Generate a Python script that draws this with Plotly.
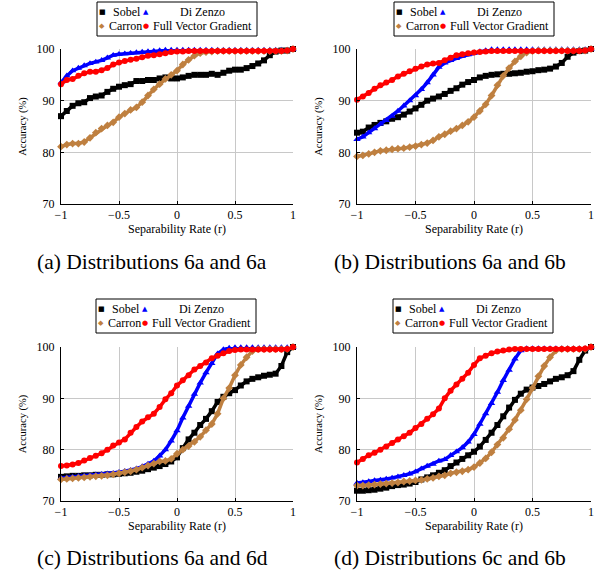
import plotly.graph_objects as go

W, H = 606, 572

# ---------------- data ----------------
x_rate = [-1, -0.95, -0.9, -0.85, -0.8, -0.75, -0.7, -0.65, -0.6, -0.55, -0.5,
          -0.45, -0.4, -0.35, -0.3, -0.25, -0.2, -0.15, -0.1, -0.05, 0,
          0.05, 0.1, 0.15, 0.2, 0.25, 0.3, 0.35, 0.4, 0.45, 0.5,
          0.55, 0.6, 0.65, 0.7, 0.75, 0.8, 0.85, 0.9, 0.95, 1]

series_names = ["Sobel", "Di Zenzo", "Carron", "Full Vector Gradient"]
panel_captions = ["(a) Distributions 6a and 6a", "(b) Distributions 6a and 6b",
                  "(c) Distributions 6a and 6d", "(d) Distributions 6c and 6b"]

# (a) 6a vs 6a
a_sobel = [87.0, 88.0, 89.0, 89.5, 89.7, 90.5, 90.8, 91.0, 91.7, 92.3, 92.7,
           93.0, 93.2, 93.8, 93.8, 94.0, 94.0, 94.3, 94.5, 94.3, 94.3,
           94.5, 94.8, 95.0, 95.0, 95.0, 95.2, 95.0, 95.4, 95.8, 96.0,
           96.0, 96.3, 96.7, 97.2, 97.8, 98.8, 99.5, 99.7, 99.7, 100.0]
a_dizenzo = [93.5, 94.8, 95.8, 96.3, 96.8, 97.2, 97.5, 97.8, 98.3, 98.8, 99.0,
             99.1, 99.2, 99.3, 99.4, 99.5, 99.6, 99.7, 99.8, 99.8, 99.8,
             99.8, 99.8, 99.8, 99.8, 99.8, 99.8, 99.8, 99.8, 99.8, 99.8,
             99.8, 99.8, 99.8, 99.8, 99.8, 99.8, 99.8, 99.8, 99.8, 100.0]
a_carron = [81.1, 81.5, 81.7, 81.7, 82.0, 82.8, 83.8, 84.6, 85.2, 85.8, 86.8,
            87.5, 88.2, 88.7, 89.7, 91.0, 92.2, 93.2, 94.2, 95.0, 95.8,
            97.0, 97.9, 98.7, 99.2, 99.4, 99.5, 99.6, 99.6, 99.6, 99.6,
            99.6, 99.6, 99.6, 99.6, 99.6, 99.6, 99.6, 99.6, 99.7, 100.0]
a_fvg = [93.2, 94.0, 94.2, 94.8, 95.3, 95.6, 95.6, 95.9, 96.3, 97.0, 97.4,
         97.7, 97.9, 98.1, 98.4, 98.7, 98.8, 99.0, 99.2, 99.4, 99.5,
         99.5, 99.6, 99.6, 99.6, 99.6, 99.6, 99.6, 99.6, 99.6, 99.6,
         99.6, 99.6, 99.6, 99.6, 99.6, 99.6, 99.6, 99.6, 99.7, 100.0]

# (b) 6a vs 6b
b_sobel = [83.8, 84.0, 84.8, 85.3, 85.7, 86.0, 86.5, 86.8, 87.3, 87.9, 88.5,
           89.2, 90.0, 90.4, 90.8, 91.3, 91.9, 92.4, 93.1, 93.6, 94.0,
           94.5, 94.8, 95.0, 95.1, 95.2, 95.2, 95.3, 95.4, 95.6, 95.7,
           95.9, 96.0, 96.2, 96.6, 97.3, 98.5, 99.3, 99.6, 99.7, 100.0]
b_dizenzo = [82.5, 83.0, 83.8, 84.6, 85.5, 86.2, 87.0, 88.0, 89.0, 90.0, 91.0,
             92.2, 93.5, 95.0, 96.5, 97.3, 97.8, 98.2, 98.6, 98.9, 99.2,
             99.5, 99.7, 99.9, 99.9, 99.9, 99.9, 99.9, 99.9, 99.9, 99.9,
             99.9, 99.9, 99.9, 99.9, 99.9, 99.9, 99.9, 99.9, 99.9, 100.0]
b_carron = [79.2, 79.4, 79.7, 80.0, 80.3, 80.4, 80.6, 80.7, 80.8, 81.0, 81.2,
            81.5, 81.8, 82.3, 83.0, 83.5, 84.1, 84.6, 85.2, 85.9, 86.8,
            88.0, 89.3, 91.0, 93.0, 94.8, 96.3, 97.6, 98.6, 99.3, 99.6,
            99.7, 99.7, 99.7, 99.7, 99.7, 99.7, 99.7, 99.7, 99.7, 100.0]
b_fvg = [90.2, 90.8, 91.5, 92.3, 93.0, 93.5, 94.0, 94.7, 95.2, 95.7, 96.2,
         96.6, 97.0, 97.2, 97.3, 97.8, 98.3, 98.8, 99.0, 99.2, 99.3,
         99.4, 99.5, 99.6, 99.6, 99.6, 99.6, 99.6, 99.6, 99.6, 99.6,
         99.6, 99.6, 99.6, 99.6, 99.6, 99.6, 99.6, 99.6, 99.7, 100.0]

# (c) 6a vs 6d
c_sobel = [74.7, 74.8, 74.9, 74.9, 75.0, 75.0, 75.1, 75.1, 75.2, 75.2, 75.3,
           75.4, 75.5, 75.7, 75.9, 76.2, 76.5, 76.8, 77.2, 77.7, 78.5,
           80.3, 82.0, 83.3, 84.8, 86.0, 87.5, 89.3, 90.3, 91.0, 91.6,
           92.5, 93.3, 93.8, 94.1, 94.4, 94.6, 94.8, 96.3, 99.0, 100.0]
c_dizenzo = [74.5, 74.6, 74.7, 74.8, 74.9, 75.0, 75.1, 75.2, 75.3, 75.4, 75.6,
             75.8, 76.0, 76.3, 76.7, 77.2, 77.8, 78.8, 80.0, 81.7, 83.7,
             86.2, 88.5, 90.8, 93.0, 95.0, 96.8, 98.7, 99.5, 99.8, 99.9,
             99.9, 99.9, 99.9, 99.9, 99.9, 99.9, 99.9, 99.9, 99.9, 100.0]
c_carron = [74.2, 74.3, 74.4, 74.5, 74.6, 74.7, 74.8, 74.9, 75.0, 75.2, 75.4,
            75.6, 75.8, 76.1, 76.5, 76.9, 77.3, 77.7, 77.8, 78.2, 79.2,
            80.0, 80.7, 81.5, 82.5, 83.8, 85.0, 87.0, 90.0, 92.0, 94.5,
            96.5, 98.0, 99.2, 99.6, 99.6, 99.6, 99.6, 99.6, 99.6, 100.0]
c_fvg = [76.8, 76.9, 77.1, 77.4, 77.9, 78.4, 78.8, 79.3, 80.0, 80.8, 81.4,
         82.0, 83.3, 84.4, 85.5, 86.3, 87.0, 88.3, 89.8, 91.0, 92.5,
         93.5, 94.5, 95.6, 96.3, 97.0, 97.8, 98.3, 98.8, 99.2, 99.4,
         99.5, 99.5, 99.5, 99.5, 99.5, 99.5, 99.5, 99.5, 99.6, 100.0]

# (d) 6c vs 6b
d_sobel = [72.0, 72.0, 72.1, 72.2, 72.4, 72.6, 72.9, 73.1, 73.2, 73.4, 73.7,
           74.2, 74.6, 75.0, 75.5, 76.0, 76.8, 77.5, 78.2, 78.9, 79.6,
           80.6, 81.9, 83.3, 84.8, 86.5, 88.2, 89.7, 90.9, 91.7, 92.1,
           92.4, 92.8, 93.3, 93.8, 94.1, 94.5, 95.3, 97.5, 99.3, 100.0]
d_dizenzo = [73.5, 73.6, 73.8, 74.0, 74.1, 74.3, 74.5, 74.7, 75.0, 75.3, 75.7,
             76.3, 76.8, 77.2, 77.8, 78.1, 78.9, 79.6, 80.4, 81.5, 83.0,
             85.0, 87.0, 89.0, 91.2, 93.5, 95.5, 97.7, 99.3, 99.7, 99.7,
             99.7, 99.7, 99.7, 99.7, 99.7, 99.7, 99.7, 99.7, 99.7, 100.0]
d_carron = [73.0, 73.0, 73.1, 73.2, 73.3, 73.4, 73.5, 73.6, 73.8, 73.9, 74.0,
            74.1, 74.3, 74.5, 74.8, 75.0, 75.4, 75.6, 75.8, 76.1, 76.6,
            77.4, 78.3, 79.5, 81.0, 82.3, 84.0, 85.8, 87.7, 89.8, 92.0,
            94.3, 96.3, 98.0, 99.3, 99.6, 99.6, 99.6, 99.6, 99.6, 100.0]
d_fvg = [77.5, 78.2, 78.9, 79.4, 80.0, 80.6, 81.3, 82.0, 82.6, 83.3, 84.2,
         85.0, 86.0, 86.9, 88.0, 90.0, 91.5, 92.7, 93.8, 95.0, 96.5,
         97.8, 98.3, 98.8, 99.1, 99.3, 99.5, 99.6, 99.6, 99.6, 99.6,
         99.6, 99.6, 99.6, 99.6, 99.6, 99.6, 99.6, 99.6, 99.7, 100.0]

panel_data = [
    [a_sobel, a_dizenzo, a_carron, a_fvg],
    [b_sobel, b_dizenzo, b_carron, b_fvg],
    [c_sobel, c_dizenzo, c_carron, c_fvg],
    [d_sobel, d_dizenzo, d_carron, d_fvg],
]

x_ticks = [-1, -0.5, 0, 0.5, 1]
y_ticks = [70, 80, 90, 100]

# ---------------- styles ----------------
colors = ["#000000", "#0000ff", "#bf8040", "#ff0000"]
symbols = ["square", "triangle-up", "diamond", "circle"]
msizes = [6, 6.5, 6, 6]
glyphs = ["■", "▲", "◆", "●"]
SERIF = "Liberation Serif, Times New Roman, Tinos, Nimbus Roman, DejaVu Serif, serif"

# axes placement in pixels: (left, right, top(100), bottom(70))
panel_px = [(61, 293, 49, 204), (357, 591, 49, 204),
            (61, 293, 347, 501), (357, 591, 347, 501)]
caption_px = [(152, 262), (450, 262), (152, 558), (450, 558)]
legend_off = [(0, 0), (297, 0), (-1, 297), (296, 297)]


def px(x):
    return x / W


def py(y):
    return 1 - y / H


fig = go.Figure()
annotations = []
shapes = []

for i in range(4):
    ax = "" if i == 0 else str(i + 1)
    l, r, t, b = panel_px[i]
    for k in range(4):
        fig.add_trace(go.Scatter(
            x=x_rate, y=panel_data[i][k], name=series_names[k],
            mode="lines+markers", showlegend=False, cliponaxis=False,
            line=dict(color=colors[k], width=3.5),
            marker=dict(color=colors[k], symbol=symbols[k], size=msizes[k],
                        line=dict(width=0)),
            xaxis="x" + ax, yaxis="y" + ax))
    axis_common = dict(showline=True, linecolor="black", linewidth=1,
                       ticks="inside", ticklen=3, tickcolor="black",
                       showgrid=True, gridcolor="#c8c8c8", gridwidth=1,
                       zeroline=False, mirror=False, automargin=False,
                       tickfont=dict(family=SERIF, size=12, color="black"))
    fig.layout["xaxis" + ax] = dict(
        axis_common, domain=[px(l), px(r)], range=[-1, 1],
        tickvals=x_ticks, anchor="y" + ax,
        title=dict(text="Separability Rate (r)", standoff=2,
                   font=dict(family=SERIF, size=12, color="black")))
    fig.layout["yaxis" + ax] = dict(
        axis_common, domain=[py(b), py(t)], range=[70, 100],
        tickvals=y_ticks, anchor="x" + ax, ticklabelstandoff=3,
        title=dict(text="Accuracy (%)", standoff=7,
                   font=dict(family=SERIF, size=10.5, color="black")))

    # caption
    cx, cy = caption_px[i]
    annotations.append(dict(text=panel_captions[i], x=px(cx), y=py(cy),
                            xref="paper", yref="paper", showarrow=False,
                            xanchor="center", yanchor="middle",
                            font=dict(family=SERIF, size=21.5, color="black")))

    # legend box (two columns, like the original)
    dx, dy = legend_off[i]
    shapes.append(dict(type="rect", xref="paper", yref="paper",
                       x0=px(97 + dx), x1=px(257 + dx),
                       y0=py(36 + dy), y1=py(2 + dy),
                       line=dict(color="black", width=1), fillcolor="white"))
    entries = [
        (0, 102, 111, 12),
        (1, 146, 178, 12),
        (2, 102, 107, 26),
        (3, 146, 151, 26),
    ]
    for k, gx, tx, ty in entries:
        annotations.append(dict(text=glyphs[k], x=px(gx + dx), y=py(ty + dy),
                                xref="paper", yref="paper", showarrow=False,
                                xanchor="center", yanchor="middle",
                                font=dict(family="DejaVu Sans", size=7,
                                          color=colors[k])))
        annotations.append(dict(text=series_names[k], x=px(tx + dx),
                                y=py(ty + dy), xref="paper", yref="paper",
                                showarrow=False, xanchor="left",
                                yanchor="middle",
                                font=dict(family=SERIF, size=12,
                                          color="black")))

fig.update_layout(
    width=W, height=H, margin=dict(l=0, r=0, t=0, b=0, autoexpand=False),
    paper_bgcolor="white", plot_bgcolor="white",
    annotations=annotations, shapes=shapes, showlegend=False,
)

fig.write_html(
    "out.html",
    config={"displayModeBar": False},
    post_script="document.body.style.margin='0';document.body.style.padding='0';"
                "document.documentElement.style.overflow='hidden';")
